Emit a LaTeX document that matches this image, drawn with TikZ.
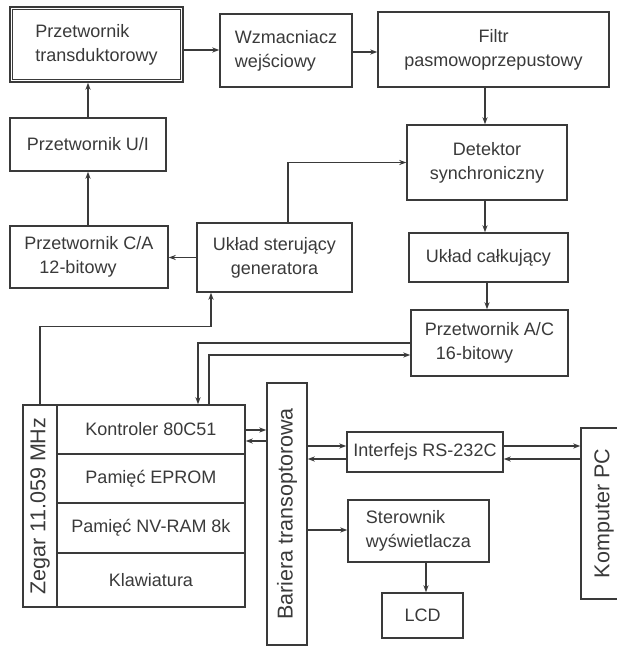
\documentclass[tikz,border=0pt]{standalone}
\usepackage{fontspec}
\setmainfont{Liberation Sans}
\usetikzlibrary{arrows.meta}
\definecolor{ink}{HTML}{3A3A3A}
\tikzset{
  box/.style={draw=ink, line width=1.4pt, inner sep=0pt, align=center,
    text=ink, font=\fontsize{18}{24}\selectfont},
  vtext/.style={box, font=\fontsize{21.5}{24}\selectfont},
  conn/.style={draw=ink, line width=1.2pt},
  arr/.style={conn, -{Stealth[length=7pt,width=5pt]}},
}
\begin{document}
\begin{tikzpicture}[x=1pt,y=-1pt]
\useasboundingbox (0,0) rectangle (617,647);
\clip (0,0) rectangle (617,647);
\fill[white] (0,0) rectangle (617,647);
% boxes
\node[box, minimum width=173pt, minimum height=75pt, align=left] (trans) at (96.5,44.5) {Przetwornik\\transduktorowy};
\draw[ink, line width=1pt] ([shift={(3pt,3pt)}]trans.south west) rectangle ([shift={(-3pt,-3pt)}]trans.north east);
\node[box, minimum width=132pt, minimum height=73pt, align=left] (wzm) at (286,50.5) {Wzmacniacz\\wejściowy};
\node[box, minimum width=231pt, minimum height=75pt] (filtr) at (493.5,49.5) {Filtr\\pasmowoprzepustowy};
\node[box, minimum width=156pt, minimum height=53pt] (ui) at (88,144.5) {Przetwornik U/I};
\node[box, minimum width=160pt, minimum height=75pt] (det) at (487,162.5) {Detektor\\synchroniczny};
\node[box, minimum width=158pt, minimum height=62pt, align=left] (ca) at (89,257) {Przetwornik C/A\\\hspace*{15pt}12-bitowy};
\node[box, minimum width=155pt, minimum height=69pt] (ster) at (274.5,257.5) {Układ sterujący\\generatora};
\node[box, minimum width=159pt, minimum height=49pt] (calk) at (488.5,257.5) {Układ całkujący};
\node[box, minimum width=157pt, minimum height=66pt, align=left] (ac) at (489.5,343) {Przetwornik A/C\\\hspace*{11pt}16-bitowy};
\node[vtext, minimum width=34pt, minimum height=202pt] (zeg) at (40,506) {\rotatebox{90}{Zegar 11.059 MHz}};
\node[box, minimum width=188pt, minimum height=49pt] (kontr) at (151,429.5) {Kontroler 80C51};
\node[box, minimum width=188pt, minimum height=49pt] (eprom) at (151,478.5) {Pamięć EPROM};
\node[box, minimum width=188pt, minimum height=50pt] (nvram) at (151,528) {Pamięć NV-RAM 8k};
\node[box, minimum width=188pt, minimum height=54pt] (klaw) at (151,580) {Klawiatura};
\node[vtext, minimum width=40pt, minimum height=262pt] (bar) at (287,514) {\rotatebox{90}{Bariera transoptorowa}};
\node[box, minimum width=156pt, minimum height=40pt] (intf) at (425,452) {Interfejs RS-232C};
\node[box, minimum width=141pt, minimum height=62pt, align=left] (sterow) at (418.5,531) {Sterownik\\wyświetlacza};
\node[box, minimum width=81pt, minimum height=45pt] (lcd) at (422.5,615.5) {LCD};
\node[vtext, minimum width=46pt, minimum height=171pt] (komp) at (604,513.5) {\rotatebox{90}{Komputer PC}};
% connectors
\draw[arr] ([yshift=-5.5pt]trans.east) -- ([yshift=0.5pt]wzm.west);
\draw[arr] ([yshift=-1.5pt]wzm.east) -- ([yshift=-2.5pt]filtr.west);
\draw[arr] ([xshift=-8.5pt]filtr.south) -- ([xshift=-8.5pt]filtr.south |- det.north);
\draw[arr] (ui.north) -- (ui.north |- trans.south);
\draw[arr] (ui.south |- ca.north) -- (ui.south);
\draw[arr] (ster.west) -- (ster.west -| ca.east);
\draw[arr] ([xshift=13.5pt]ster.north) |- (det.west);
\draw[arr] ([xshift=-2pt]det.south) -- ([xshift=-2pt]det.south |- calk.north);
\draw[arr] ([xshift=-1.5pt]calk.south) -- ([xshift=-1.5pt]calk.south |- ac.north);
\draw[arr] (ac.west) -| ([xshift=47pt]kontr.north);
\draw[arr] ([xshift=58pt]kontr.north) |- ([yshift=-12pt]ac.west);
\draw[arr] (zeg.north) |- ([xshift=-63.5pt,yshift=-34pt]ster.south) -- ([xshift=-63.5pt]ster.south);
\draw[arr] ([yshift=-0.5pt]kontr.east) -- ([yshift=-0.5pt]kontr.east -| bar.west);
\draw[arr] ([yshift=-11.5pt]kontr.east -| bar.west) -- ([yshift=-11.5pt]kontr.east);
\draw[arr] ([yshift=6pt]intf.west -| bar.east) -- ([yshift=6pt]intf.west);
\draw[arr] ([yshift=-7pt]intf.west) -- ([yshift=-7pt]intf.west -| bar.east);
\draw[arr] ([yshift=6pt]intf.east) -- ([yshift=6pt]intf.east -| komp.west);
\draw[arr] ([yshift=-7pt]intf.east -| komp.west) -- ([yshift=-7pt]intf.east);
\draw[arr] ([yshift=1pt]sterow.west -| bar.east) -- ([yshift=1pt]sterow.west);
\draw[arr] ([xshift=7.5pt]sterow.south) -- ([xshift=7.5pt]sterow.south |- lcd.north);
\end{tikzpicture}
\end{document}
